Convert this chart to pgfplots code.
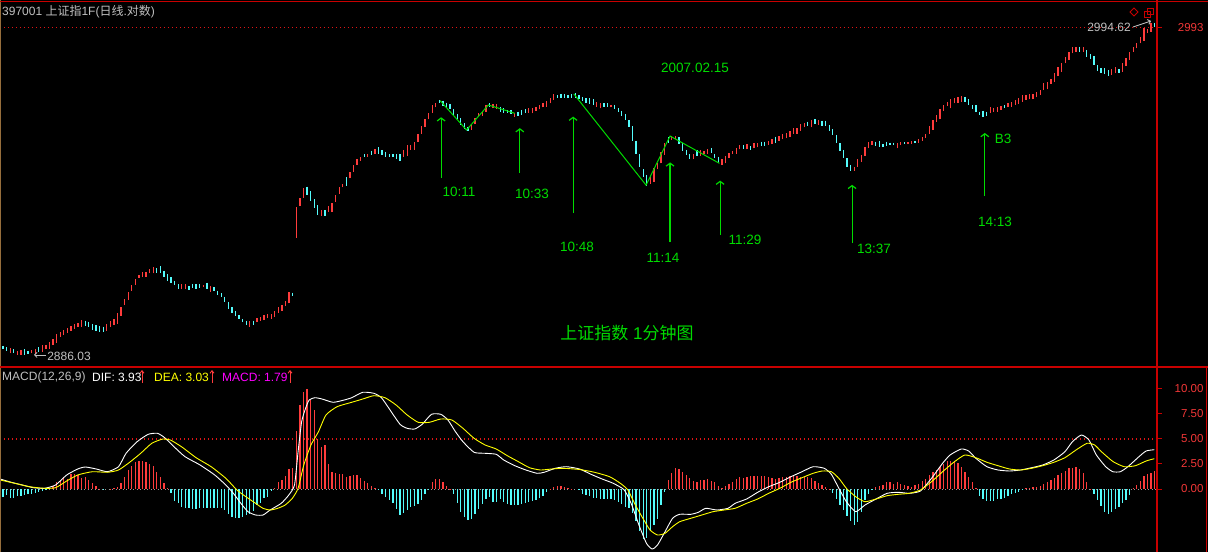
\documentclass[border=0pt]{standalone}
\usepackage{pgfplots}
\pgfplotsset{compat=1.18}
\usepackage{pgfplotstable}
\usepackage{fontspec}
\setmainfont{Liberation Sans}
\newfontfamily\cjk{Noto Sans CJK SC}
\usetikzlibrary{arrows.meta}
\definecolor{frame}{RGB}{200,0,0}
\definecolor{dots}{RGB}{225,20,20}
\definecolor{uptick}{RGB}{255,60,60}
\definecolor{dntick}{RGB}{84,252,252}
\definecolor{note}{RGB}{0,220,0}
\definecolor{txt}{RGB}{192,192,192}
\definecolor{lbl}{RGB}{240,55,55}
\definecolor{dea}{RGB}{255,255,0}
\definecolor{macd}{RGB}{255,0,255}
\definecolor{edge}{RGB}{150,110,60}

% 1-minute bars: index, open, close (last 82 bars of previous day, then 2007.02.15)
\pgfplotstableread{
n o c
0 2887.8 2886.7
1 2887.4 2886.1
2 2885.4 2887.1
3 2886.7 2885.6
4 2885.0 2886.3
5 2885.0 2886.5
6 2886.7 2885.0
7 2886.3 2885.2
8 2885.4 2886.5
9 2885.2 2886.7
10 2887.4 2885.8
11 2885.9 2888.2
12 2886.7 2888.2
13 2887.0 2889.3
14 2888.2 2890.0
15 2888.9 2891.8
16 2890.9 2892.5
17 2891.4 2893.1
18 2892.2 2893.9
19 2892.9 2894.4
20 2893.6 2895.1
21 2894.2 2895.3
22 2894.2 2896.4
23 2896.2 2894.4
24 2895.9 2894.2
25 2895.1 2893.1
26 2894.8 2892.9
27 2894.4 2892.6
28 2894.2 2892.6
29 2892.9 2895.1
30 2894.2 2896.2
31 2894.8 2896.6
32 2895.1 2898.8
33 2897.8 2900.8
34 2901.4 2903.2
35 2903.0 2905.8
36 2906.1 2908.0
37 2908.0 2909.8
38 2910.2 2911.3
39 2910.7 2912.2
40 2910.7 2912.4
41 2911.8 2913.1
42 2911.8 2913.8
43 2913.5 2912.0
44 2914.2 2912.0
45 2912.7 2910.5
46 2911.6 2909.4
47 2910.5 2908.5
48 2909.4 2908.1
49 2908.3 2906.7
50 2906.5 2908.3
51 2906.5 2908.3
52 2907.6 2906.3
53 2908.3 2907.0
54 2908.3 2906.5
55 2908.3 2907.0
56 2907.2 2908.1
57 2908.7 2906.5
58 2905.8 2907.6
59 2907.2 2906.1
60 2906.1 2904.7
61 2905.2 2903.9
62 2904.1 2902.5
63 2902.5 2899.9
64 2900.6 2898.8
65 2899.5 2897.7
66 2897.9 2896.6
67 2896.8 2895.7
68 2896.2 2894.6
69 2894.2 2896.2
70 2896.2 2894.8
71 2895.9 2897.1
72 2896.2 2897.5
73 2896.4 2898.0
74 2897.0 2898.4
75 2896.8 2898.4
76 2897.5 2899.5
77 2898.8 2900.6
78 2899.5 2901.2
79 2901.0 2902.8
80 2901.9 2905.8
81 2905.4 2904.3
82 2923.6 2933.8
83 2934.0 2936.5
84 2936.8 2939.85
85 2940.4 2937.6
86 2939.0 2935.8
87 2936.2 2933.25
88 2934.35 2931.05
89 2930.7 2932.7
90 2932.7 2930.7
91 2932.0 2934.0
92 2932.0 2934.9
93 2935.3 2937.65
94 2938.0 2940.2
95 2940.2 2941.3
96 2943.5 2940.6
97 2943.15 2945.35
98 2945.35 2947.55
99 2947.55 2949.4
100 2949.0 2950.1
101 2951.2 2950.1
102 2950.3 2951.2
103 2952.3 2950.85
104 2951.2 2952.7
105 2953.4 2951.2
106 2952.5 2950.85
107 2951.95 2950.3
108 2951.2 2950.3
109 2951.2 2950.1
110 2951.2 2949.4
111 2951.2 2949.0
112 2950.3 2952.5
113 2950.5 2954.15
114 2952.5 2954.15
115 2952.5 2955.25
116 2955.25 2957.8
117 2957.8 2960.4
118 2960.2 2962.6
119 2962.6 2964.8
120 2964.8 2967.35
121 2966.6 2968.1
122 2969.0 2967.9
123 2968.8 2967.0
124 2968.1 2966.25
125 2967.7 2965.9
126 2965.9 2963.7
127 2964.4 2962.6
128 2962.95 2960.75
129 2961.3 2959.3
130 2960.2 2958.9
131 2959.1 2960.75
132 2961.1 2962.95
133 2963.7 2964.8
134 2963.7 2965.5
135 2965.15 2967.35
136 2967.9 2966.8
137 2966.25 2967.7
138 2965.9 2967.7
139 2966.8 2965.15
140 2966.25 2964.8
141 2965.7 2964.6
142 2965.7 2964.4
143 2963.5 2964.8
144 2965.15 2963.7
145 2965.7 2964.05
146 2965.9 2964.6
147 2964.8 2966.25
148 2964.6 2966.25
149 2965.5 2966.8
150 2965.9 2967.35
151 2966.6 2967.9
152 2966.8 2968.8
153 2967.9 2969.55
154 2969.0 2971.0
155 2970.65 2969.55
156 2971.0 2969.55
157 2971.0 2969.55
158 2970.65 2969.55
159 2971.0 2969.55
160 2971.2 2969.55
161 2970.65 2969.2
162 2969.9 2968.8
163 2969.55 2967.9
164 2969.55 2967.7
165 2969.2 2967.35
166 2966.8 2968.45
167 2966.25 2967.9
168 2967.9 2966.6
169 2967.9 2966.6
170 2966.6 2967.5
171 2967.35 2965.9
172 2966.25 2965.15
173 2965.5 2963.7
174 2964.4 2962.4
175 2962.4 2960.2
176 2960.4 2955.6
177 2955.6 2951.2
178 2951.2 2947.0
179 2946.1 2943.7
180 2944.25 2940.6
181 2941.3 2943.5
182 2942.05 2946.45
183 2946.1 2948.1
184 2948.1 2951.95
185 2950.85 2954.9
186 2956.7 2954.7
187 2955.8 2957.1
188 2956.0 2957.1
189 2956.7 2954.5
190 2954.9 2952.3
191 2952.5 2950.85
192 2951.2 2949.4
193 2949.4 2951.2
194 2952.5 2950.5
195 2950.5 2952.5
196 2951.2 2952.3
197 2951.2 2952.7
198 2953.05 2951.4
199 2951.2 2949.75
200 2950.3 2948.3
201 2947.55 2949.4
202 2948.1 2950.5
203 2949.75 2951.6
204 2951.2 2952.3
205 2951.2 2953.05
206 2952.7 2954.15
207 2954.15 2952.7
208 2952.7 2954.5
209 2953.8 2952.5
210 2953.05 2954.7
211 2953.4 2954.9
212 2955.25 2953.8
213 2955.25 2953.8
214 2954.15 2955.6
215 2954.5 2956.0
216 2956.9 2954.9
217 2955.6 2957.1
218 2956.0 2957.8
219 2956.35 2958.0
220 2956.9 2958.9
221 2957.8 2959.65
222 2957.8 2959.65
223 2958.9 2961.1
224 2960.0 2961.3
225 2961.85 2960.4
226 2960.0 2962.4
227 2962.6 2961.1
228 2960.75 2962.4
229 2962.2 2960.4
230 2962.2 2960.4
231 2960.75 2958.9
232 2959.3 2957.45
233 2957.45 2954.7
234 2954.7 2952.3
235 2952.5 2949.75
236 2949.75 2947.0
237 2947.55 2945.7
238 2945.7 2947.0
239 2947.0 2949.4
240 2948.65 2950.85
241 2950.5 2953.6
242 2953.05 2955.25
243 2954.15 2955.6
244 2955.25 2953.8
245 2955.6 2953.6
246 2954.5 2953.6
247 2955.25 2953.8
248 2954.9 2954.15
249 2954.9 2954.15
250 2953.05 2954.7
251 2954.2 2955.2
252 2955.2 2954.4
253 2954.4 2955.0
254 2954.6 2955.5
255 2955.5 2954.8
256 2954.8 2956.1
257 2955.6 2956.8
258 2956.5 2957.8
259 2957.8 2960.4
260 2959.1 2962.4
261 2961.85 2964.05
262 2962.6 2965.9
263 2965.5 2967.35
264 2967.0 2968.45
265 2966.25 2969.2
266 2967.9 2969.55
267 2968.1 2969.9
268 2968.45 2970.3
269 2970.1 2968.45
270 2969.2 2967.35
271 2967.35 2965.9
272 2967.35 2965.15
273 2965.15 2964.05
274 2965.5 2963.5
275 2965.15 2963.7
276 2964.8 2966.6
277 2965.15 2966.25
278 2965.15 2966.6
279 2965.7 2967.0
280 2967.35 2966.25
281 2966.6 2968.1
282 2966.8 2968.45
283 2967.35 2969.0
284 2967.7 2969.55
285 2968.45 2970.65
286 2969.0 2970.65
287 2969.2 2971.0
288 2969.2 2971.0
289 2969.9 2971.75
290 2970.65 2972.3
291 2972.3 2974.7
292 2972.5 2975.05
293 2974.3 2975.8
294 2975.05 2977.8
295 2976.9 2979.8
296 2978.35 2981.3
297 2981.1 2983.1
298 2982.2 2984.95
299 2984.4 2986.4
300 2984.95 2986.4
301 2986.6 2984.95
302 2984.95 2986.4
303 2985.5 2983.1
304 2984.2 2982.4
305 2983.5 2980.55
306 2980.55 2978.7
307 2979.45 2977.8
308 2979.45 2977.6
309 2978.9 2976.9
310 2977.25 2979.1
311 2977.8 2980.0
312 2979.1 2978.0
313 2978.35 2981.3
314 2980.2 2982.75
315 2982.2 2984.95
316 2984.95 2986.4
317 2986.05 2987.7
318 2987.7 2989.9
319 2988.6 2992.65
320 2991.0 2992.3
321 2991.55 2994.5
322 2994.5 2993.2
}\price

% MACD histogram per bar
\pgfplotstableread{
n m
0 -0.77
1 -0.6
2 -0.87
3 -0.87
4 -0.7
5 -0.67
6 -0.6
7 -0.53
8 -0.5
9 -0.43
10 -0.27
11 -0.15
12 -0.05
13 0.1
14 0.35
15 0.73
16 0.8
17 1.23
18 1.0
19 1.47
20 1.47
21 1.4
22 1.1
23 1.2
24 0.95
25 0.6
26 0.3
27 0.05
28 -0.1
29 0.0
30 0.05
31 0.07
32 0.2
33 0.6
34 1.2
35 1.9
36 2.3
37 2.7
38 2.8
39 2.8
40 2.67
41 2.5
42 2.3
43 1.7
44 1.2
45 0.6
46 0.15
47 -0.43
48 -1.15
49 -1.43
50 -1.75
51 -1.87
52 -1.93
53 -2.0
54 -1.97
55 -1.93
56 -1.9
57 -1.88
58 -1.92
59 -1.87
60 -1.87
61 -1.92
62 -2.08
63 -2.5
64 -2.75
65 -2.9
66 -2.9
67 -2.75
68 -2.6
69 -2.5
70 -2.2
71 -1.6
72 -1.4
73 -0.92
74 -0.75
75 -0.2
76 0.13
77 0.72
78 0.9
79 1.3
80 2.0
81 2.13
82 5.8
83 8.4
84 9.7
85 10.0
86 8.9
87 7.9
88 5.0
89 4.2
90 4.4
91 2.5
92 1.73
93 1.57
94 1.47
95 1.47
96 1.25
97 1.3
98 1.4
99 1.4
100 1.1
101 0.85
102 0.6
103 0.35
104 0.1
105 -0.05
106 -0.45
107 -0.8
108 -1.1
109 -1.4
110 -2.0
111 -2.55
112 -2.4
113 -2.1
114 -1.8
115 -1.65
116 -1.48
117 -1.1
118 -0.5
119 -0.1
120 0.75
121 1.05
122 1.0
123 0.75
124 0.3
125 0.05
126 -0.45
127 -1.4
128 -2.3
129 -2.8
130 -3.1
131 -3.0
132 -2.5
133 -2.0
134 -1.45
135 -0.98
136 -0.8
137 -1.27
138 -1.27
139 -1.0
140 -1.33
141 -1.53
142 -1.6
143 -1.6
144 -1.55
145 -1.45
146 -1.35
147 -1.28
148 -1.2
149 -1.05
150 -0.9
151 -0.65
152 -0.3
153 0.05
154 0.2
155 0.3
156 0.28
157 0.17
158 0.1
159 0.05
160 0.0
161 -0.1
162 -0.45
163 -0.6
164 -0.67
165 -0.87
166 -0.93
167 -1.0
168 -1.0
169 -1.0
170 -0.95
171 -1.1
172 -1.25
173 -1.5
174 -1.75
175 -1.85
176 -2.4
177 -3.2
178 -4.2
179 -5.0
180 -4.9
181 -4.1
182 -3.6
183 -3.0
184 -1.6
185 -0.3
186 0.9
187 1.6
188 2.07
189 2.0
190 1.67
191 1.45
192 1.07
193 0.8
194 0.7
195 0.9
196 0.9
197 1.0
198 0.8
199 0.67
200 0.3
201 0.15
202 0.35
203 0.55
204 0.75
205 1.0
206 1.2
207 1.13
208 1.23
209 1.3
210 1.33
211 1.3
212 1.27
213 1.3
214 1.2
215 1.1
216 1.0
217 1.07
218 1.2
219 1.23
220 1.33
221 1.33
222 1.33
223 1.23
224 1.23
225 1.23
226 1.07
227 0.8
228 0.6
229 0.4
230 0.25
231 0.05
232 -0.4
233 -1.0
234 -1.6
235 -2.1
236 -2.7
237 -3.2
238 -3.6
239 -3.3
240 -2.3
241 -1.1
242 -0.45
243 -0.05
244 0.23
245 0.35
246 0.4
247 0.67
248 0.67
249 0.55
250 0.67
251 0.47
252 0.4
253 0.33
254 0.23
255 0.4
256 0.55
257 0.8
258 1.0
259 1.45
260 1.73
261 1.9
262 2.2
263 2.5
264 2.8
265 2.75
266 2.75
267 2.6
268 2.2
269 1.7
270 1.2
271 0.7
272 0.1
273 -0.65
274 -1.0
275 -1.2
276 -1.15
277 -1.2
278 -1.0
279 -1.0
280 -0.93
281 -0.67
282 -0.53
283 -0.43
284 -0.3
285 -0.13
286 0.07
287 0.13
288 0.23
289 0.23
290 0.33
291 0.55
292 0.75
293 0.9
294 1.1
295 1.4
296 1.6
297 1.85
298 2.05
299 2.13
300 2.2
301 2.0
302 1.6
303 0.75
304 0.05
305 -0.45
306 -1.1
307 -1.65
308 -2.25
309 -2.53
310 -2.27
311 -1.95
312 -1.77
313 -1.4
314 -1.05
315 -0.6
316 0.15
317 0.45
318 0.85
319 1.35
320 1.5
321 1.65
322 1.79
}\hist

\pgfplotsset{
  panel/.style={
    scale only axis, width=1157pt,
    xmin=-0.84, xmax=322.65,
    axis x line=none, axis y line*=right,
    y axis line style={-, draw=none},
    tick align=outside, major tick length=5pt,
    ytick style={draw=frame, line width=1pt},
    yticklabel style={font=\fontsize{11.5}{13}\selectfont, text=lbl, anchor=east, xshift=45pt},
    /pgf/number format/assume math mode=true,
  },
}
\tikzset{
  notearrow/.style={note, line width=1.2pt, -{Straight Barb[length=3pt,width=8pt]}},
  reddots/.style={dots, line width=1.4pt, dash pattern=on 1.4pt off 2.6pt},
}

\begin{document}
\begin{tikzpicture}
\fill[black] (0,0) rectangle (1208pt,552pt);
\useasboundingbox (0,0) rectangle (1208pt,552pt);

% ---- price panel
\begin{axis}[panel, at={(0pt,185pt)}, anchor=south west, height=364pt,
  ymin=2880.9, ymax=3001.0, ytick={2993}, yticklabels={2993}]
\draw[reddots] (axis cs:-0.84,2993) -- (axis cs:322.65,2993);
\addplot[uptick, line width=1.3pt, line cap=butt,
  quiver={u=0, v=\thisrow{c}-\thisrow{o}},
  restrict expr to domain={\thisrow{c}-\thisrow{o}}{0:500}] table[x=n, y=o] {\price};
\addplot[dntick, line width=1.3pt, line cap=butt,
  quiver={u=0, v=\thisrow{c}-\thisrow{o}},
  restrict expr to domain={\thisrow{c}-\thisrow{o}}{-500:0}] table[x=n, y=o] {\price};
% hand-drawn trend lines
\addplot[note, line width=1pt] coordinates {(122.2,2968.8) (129.6,2959.1) (135.7,2967.35) (143.1,2964.6)};
\addplot[note, line width=1pt] coordinates {(159.6,2971.0) (179.8,2940.9) (186.5,2957.1) (200.3,2948.1)};
% arrows
\draw[notearrow] (axis cs:122.5,2943.4) -- (axis cs:122.5,2963.3);
\draw[notearrow] (axis cs:144.5,2945.0) -- (axis cs:144.5,2959.7);
\draw[notearrow] (axis cs:159.4,2931.7) -- (axis cs:159.4,2963.5);
\draw[notearrow] (axis cs:186.5,2922.1) -- (axis cs:186.5,2948.4);
\draw[notearrow] (axis cs:200.5,2924.5) -- (axis cs:200.5,2942.4);
\draw[notearrow] (axis cs:237.4,2921.8) -- (axis cs:237.4,2941.0);
\draw[notearrow] (axis cs:274.5,2937.3) -- (axis cs:274.5,2958.1);
\end{axis}

% ---- MACD panel
\begin{axis}[panel, at={(0pt,0pt)}, anchor=south west, height=185pt,
  ymin=-6.3, ymax=12.2, ytick={0,2.5,5,7.5,10},
  yticklabel={\pgfmathprintnumber[fixed, fixed zerofill, precision=2]{\tick}}]
\draw[reddots] (axis cs:-0.84,5) -- (axis cs:322.65,5);
\draw[gray!80, line width=1pt, dash pattern=on 1pt off 2.5pt] (axis cs:-0.84,0) -- (axis cs:322.65,0);
\addplot[uptick, ycomb, line width=1.3pt, line cap=butt, restrict y to domain=0:20] table[x=n, y=m] {\hist};
\addplot[dntick, ycomb, line width=1.3pt, line cap=butt, restrict y to domain=-20:0] table[x=n, y=m] {\hist};
% DIF
\addplot[white, line width=0.9pt, smooth, tension=0.35] coordinates {
(-0.8,1.0) (2.3,0.67) (5.4,0.4) (8.5,0.13) (11.6,0.07) (14.7,0.4) (17.8,1.4) (20.9,2.0) (23.0,2.2) (26.1,2.0)
(29.2,1.73) (32.3,2.23) (34.4,3.57) (37.5,4.73) (40.6,5.47) (43.2,5.57) (45.2,5.13) (47.8,4.23) (50.9,3.23) (55.1,2.4)
(59.2,1.4) (62.3,0.4) (64.4,-0.43) (66.5,-1.43) (68.5,-2.27) (70.6,-2.6) (72.7,-2.6) (74.7,-2.1) (77.8,-1.43) (79.9,-0.6)
(81.5,0.4) (82.5,3.73) (83.5,6.73) (84.6,8.07) (85.6,8.9) (87.2,9.13) (89.2,9.0) (92.3,8.67) (95.4,8.9) (97.5,9.13)
(100.6,9.67) (103.7,9.57) (105.8,9.13) (107.9,8.07) (111.0,6.47) (113.0,6.07) (115.1,6.0) (117.2,6.47) (119.8,7.47) (122.4,7.47)
(124.4,6.9) (126.5,5.73) (128.6,4.73) (131.7,3.67) (134.8,3.57) (137.9,3.47) (140.0,2.9) (143.1,2.33) (146.2,1.9) (149.3,1.57)
(151.3,1.67) (154.4,2.07) (157.5,2.23) (161.2,2.0) (164.4,1.47) (167.5,1.0) (170.6,0.57) (173.7,-0.1) (175.8,-1.6) (177.8,-3.6)
(179.9,-5.43) (181.5,-6.0) (183.0,-5.6) (185.1,-4.27) (187.2,-2.93) (189.2,-2.53) (192.3,-2.53) (194.4,-2.33) (196.5,-1.93) (199.6,-2.1)
(202.7,-1.93) (204.7,-1.43) (207.9,-1.0) (211.0,-0.33) (214.1,0.23) (217.2,0.67) (220.3,1.23) (223.4,1.73) (226.5,2.23) (229.6,2.07)
(231.6,1.47) (233.7,0.07) (235.8,-1.27) (238.4,-2.27) (241.0,-1.6) (244.1,-1.0) (247.2,-0.43) (250.3,-0.33) (253.4,-0.43) (256.5,-0.2)
(259.6,1.07) (262.7,2.57) (264.8,3.4) (267.9,4.0) (270.0,3.8) (272.0,3.07) (275.1,2.23) (278.2,1.9) (281.4,1.8) (284.5,1.9)
(287.6,2.13) (290.7,2.4) (293.8,2.9) (296.9,3.73) (299.0,4.73) (301.5,5.4) (303.6,4.9) (305.7,3.4) (308.3,2.23) (310.3,1.73)
(312.4,1.73) (314.5,2.23) (317.6,3.23) (319.6,3.8) (321.9,3.93)};
% DEA
\addplot[dea, line width=0.9pt, smooth, tension=0.35] coordinates {
(-0.8,0.9) (3.3,0.57) (7.4,0.23) (11.6,0.07) (14.7,0.13) (17.8,0.8) (20.9,1.4) (25.0,1.73) (29.2,1.67) (32.3,1.9)
(35.4,2.67) (38.5,3.57) (41.6,4.57) (44.7,5.0) (46.8,4.9) (49.9,4.23) (54.0,3.13) (58.2,2.23) (62.3,1.07) (65.4,-0.1)
(67.5,-0.67) (70.6,-1.43) (72.7,-1.93) (74.7,-2.1) (76.8,-1.93) (78.9,-1.6) (80.9,-0.93) (82.5,0.07) (84.1,2.4) (86.1,4.4)
(88.2,5.73) (90.3,7.4) (93.4,8.23) (97.5,8.67) (100.6,9.0) (103.7,9.33) (106.8,9.13) (109.9,8.4) (113.0,7.4) (116.1,6.67)
(119.2,6.67) (122.4,7.0) (125.5,6.9) (128.6,6.07) (131.7,5.07) (134.8,4.4) (137.9,4.0) (141.0,3.33) (144.1,2.73) (147.2,2.13)
(150.3,1.9) (153.4,2.0) (156.5,2.07) (161.2,1.95) (165.4,1.67) (169.6,1.23) (172.6,0.57) (174.7,-0.1) (176.8,-1.6) (178.9,-2.93)
(180.9,-4.1) (183.0,-4.6) (185.1,-4.43) (187.2,-3.77) (189.2,-3.27) (192.3,-2.93) (195.4,-2.6) (198.5,-2.27) (201.6,-2.1) (204.7,-1.93)
(207.9,-1.43) (211.0,-1.0) (214.1,-0.43) (217.2,0.07) (220.3,0.67) (223.4,1.13) (226.5,1.57) (229.1,1.8) (231.6,1.73) (233.7,1.07)
(235.8,0.07) (238.4,-0.77) (241.0,-1.27) (244.1,-1.0) (247.2,-0.67) (250.3,-0.53) (253.4,-0.43) (256.5,-0.1) (259.6,0.73) (262.7,1.73)
(265.8,2.67) (268.9,3.4) (272.0,3.13) (275.1,2.67) (278.2,2.33) (281.4,2.0) (284.5,1.9) (287.6,2.07) (290.7,2.33) (293.8,2.67)
(296.9,3.13) (300.0,3.9) (303.1,4.57) (305.2,4.4) (307.3,3.67) (310.4,2.73) (313.5,2.23) (316.6,2.33) (319.6,2.8) (321.9,3.03)};
\end{axis}

% ---- frame
\draw[edge, line width=1pt] (0.5pt,0) -- (0.5pt,552pt);
\draw[frame, line width=1.3pt] (0,550.8pt) -- (1208pt,550.8pt);
\draw[frame, line width=1.3pt] (0,185pt) -- (1208pt,185pt);
\draw[frame, line width=1.3pt] (1157pt,0) -- (1157pt,552pt);
\draw[frame, line width=1.3pt] (1206.5pt,0) -- (1206.5pt,185pt);
% window icons
\draw[frame, line width=0.8pt] (1134pt,544pt) -- (1138pt,540pt) -- (1134pt,536pt) -- (1130pt,540pt) -- cycle;
\draw[frame, line width=0.8pt] (1147pt,538pt) rectangle (1153pt,544pt);
\draw[frame, line width=0.8pt] (1144pt,535pt) rectangle (1150pt,541pt);

% ---- texts
\node[anchor=west, inner sep=0pt, text=txt, font=\fontsize{12}{14}\selectfont] at (2pt,540pt)
  {397001 {\cjk 上证指}1F({\cjk 日线}.{\cjk 对数})};
\node[inner sep=0pt, text=txt, font=\fontsize{12}{14}\selectfont] at (1109pt,525pt) {2994.62};
\draw[txt, line width=0.8pt, -{Straight Barb[length=2.5pt,width=5pt]}] (1133pt,525pt) -- (1151pt,531pt);
\node[inner sep=0pt, text=txt, font=\fontsize{12}{14}\selectfont] at (69pt,196pt) {2886.03};
\draw[txt, line width=0.8pt, -{Straight Barb[length=2.5pt,width=5pt]}] (46pt,197pt) -- (34pt,197pt);

\begin{scope}[every node/.style={inner sep=0pt, text=note, font=\fontsize{13.5}{15}\selectfont}]
\node at (695pt,484pt) {2007.02.15};
\node at (459pt,360pt) {10:11};
\node at (532pt,358pt) {10:33};
\node at (577pt,305pt) {10:48};
\node at (663pt,294pt) {11:14};
\node at (745pt,312pt) {11:29};
\node at (874pt,303pt) {13:37};
\node at (1003pt,413pt) {B3};
\node at (995pt,330pt) {14:13};
\node[font=\fontsize{17}{19}\selectfont] at (627pt,219pt) {{\cjk 上证指数} 1{\cjk 分钟图}};
\end{scope}

\begin{scope}[every node/.style={inner sep=0pt, anchor=west, font=\fontsize{12}{14}\selectfont}]
\node[text=txt] at (2pt,175pt) {MACD(12,26,9)};
\node[text=white] at (92pt,175pt) {DIF: 3.93};
\node[text=dea] at (154pt,175pt) {DEA: 3.03};
\node[text=macd] at (222pt,175pt) {MACD: 1.79};
\end{scope}
\draw[uptick, line width=0.9pt, -{Straight Barb[length=2.5pt,width=4pt]}] (142pt,169pt) -- (142pt,182pt);
\draw[uptick, line width=0.9pt, -{Straight Barb[length=2.5pt,width=4pt]}] (212pt,169pt) -- (212pt,182pt);
\draw[uptick, line width=0.9pt, -{Straight Barb[length=2.5pt,width=4pt]}] (290pt,169pt) -- (290pt,182pt);
\end{tikzpicture}
\end{document}
